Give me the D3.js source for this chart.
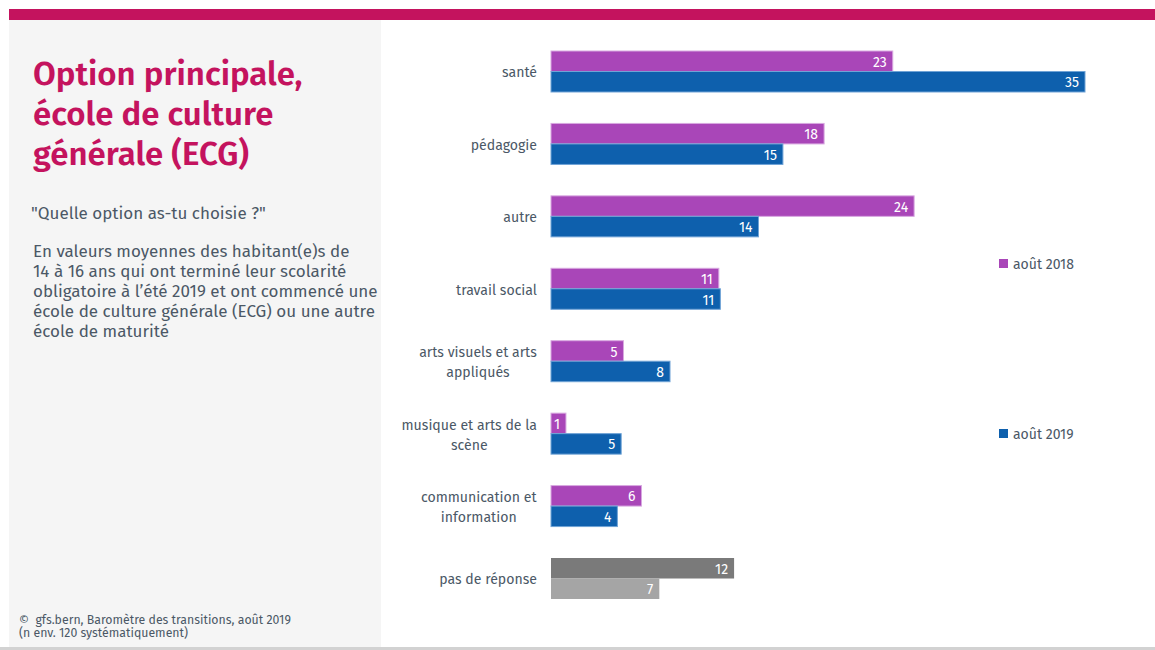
<!DOCTYPE html>
<html>
<head>
<meta charset="utf-8">
<script src="https://cdn.jsdelivr.net/npm/d3@7"></script>
<style>
  html, body { margin: 0; padding: 0; background: #ffffff; }
  svg { display: block; font-family: "Fira Sans", "Open Sans", "Noto Sans", sans-serif; }
</style>
</head>
<body>
<svg id="chart" width="1155" height="650"></svg>
<script>
// ---- data ----
const categories = [
  "santé",
  "pédagogie",
  "autre",
  "travail social",
  "arts visuels et arts\nappliqués",
  "musique et arts de la\nscène",
  "communication et\ninformation",
  "pas de réponse"
];
const series = ["août 2018", "août 2019"];
const values2018 = [22.4, 17.9, 23.8, 11.0, 4.75, 0.98, 5.93, 12.0];
const values2019 = [35.0, 15.2, 13.6, 11.1, 7.8, 4.6, 4.35, 7.1];
const labels2018 = ["23", "18", "24", "11", "5", "1", "6", "12"];
const labels2019 = ["35", "15", "14", "11", "8", "5", "4", "7"];

const titleLines = ["Option principale,", "école de culture", "générale (ECG)"];
const questionText = "\"Quelle option as-tu choisie ?\"";
const descLines = [
  "En valeurs moyennes des habitant(e)s de",
  "14 à 16 ans qui ont terminé leur scolarité",
  "obligatoire à l’été 2019 et ont commencé une",
  "école de culture générale (ECG) ou une autre",
  "école de maturité"
];
const footerLines = ["©\u00a0\u00a0gfs.bern, Baromètre des transitions, août 2019", "(n env. 120 systématiquement)"];

// ---- styling ----
const colMagenta = "#c4135e";
const col2018 = "#a946b8";
const col2019 = "#0e60ad";
const colNoAns2018 = "#7a7a7a";
const colNoAns2019 = "#a5a5a5";
const textCol = "#4b5866";

const svg = d3.select("#chart");

// top band and panels
svg.append("rect").attr("x", 9).attr("y", 9).attr("width", 1146).attr("height", 11).attr("fill", colMagenta);
svg.append("rect").attr("x", 9).attr("y", 20).attr("width", 372).attr("height", 627).attr("fill", "#f5f5f5");
svg.append("rect").attr("x", 0).attr("y", 647).attr("width", 1155).attr("height", 3).attr("fill", "#d2d2d2");

// title
const title = svg.append("text").attr("fill", colMagenta).attr("font-weight", 600).attr("font-size", 33);
titleLines.forEach((l, i) => {
  title.append("tspan").attr("x", 33).attr("y", 85 + i * 40).text(l);
});

svg.append("text").attr("x", 31).attr("y", 219).attr("fill", textCol).attr("font-size", 17).text(questionText);
const desc = svg.append("text").attr("fill", textCol).attr("font-size", 17);
descLines.forEach((l, i) => {
  desc.append("tspan").attr("x", 33).attr("y", 257 + i * 20).text(l);
});
const foot = svg.append("text").attr("fill", textCol).attr("font-size", 12.3);
footerLines.forEach((l, i) => {
  foot.append("tspan").attr("x", 19).attr("y", 624 + i * 13).text(l);
});

// ---- scales ----
const x = d3.scaleLinear().domain([0, 35]).range([551, 1085]);
const y = d3.scaleBand().domain(categories).range([51, 599]).paddingInner(0.434).paddingOuter(0);
const ySub = d3.scaleBand().domain(series).range([0, y.bandwidth()]);

const rows = categories.map((c, i) => ({
  cat: c,
  noAnswer: i === categories.length - 1,
  bars: [
    { s: series[0], v: values2018[i], lab: labels2018[i] },
    { s: series[1], v: values2019[i], lab: labels2019[i] }
  ]
}));

const g = svg.selectAll("g.row").data(rows).join("g").attr("class", "row")
  .attr("transform", d => `translate(0,${y(d.cat)})`);

g.selectAll("rect.bar").data(d => d.bars.map(b => ({ ...b, noAnswer: d.noAnswer })))
  .join("rect").attr("class", "bar")
  .attr("x", x(0))
  .attr("y", d => ySub(d.s))
  .attr("width", d => x(d.v) - x(0))
  .attr("height", ySub.bandwidth())
  .attr("fill", d => d.noAnswer ? (d.s === series[0] ? colNoAns2018 : colNoAns2019) : (d.s === series[0] ? col2018 : col2019))
  .attr("stroke", d => d.noAnswer ? "none" : (d.s === series[0] ? "#d8a8e0" : "#6fa3d6"))
  .attr("stroke-width", 1);

g.selectAll("text.val").data(d => d.bars)
  .join("text").attr("class", "val")
  .attr("x", d => x(d.v) - 6)
  .attr("y", d => ySub(d.s) + ySub.bandwidth() / 2)
  .attr("dy", "0.4em")
  .attr("text-anchor", "end")
  .attr("fill", "#ffffff")
  .attr("font-size", 14)
  .text(d => d.lab);

// category labels (multi-line centered block, right aligned)
g.each(function(d) {
  const lines = d.cat.split("\n");
  const grp = d3.select(this).append("g");
  const t = grp.append("text").attr("fill", textCol).attr("font-size", 14.1).attr("text-anchor", "middle");
  const cy = y.bandwidth() / 2 + 1;
  lines.forEach((l, i) => {
    t.append("tspan").attr("x", 0).attr("y", cy + (i - (lines.length - 1) / 2) * 20).attr("dy", "0.35em").text(l);
  });
  const w = t.node().getBBox().width;
  grp.attr("transform", `translate(${537 - w / 2},0)`);
});

// legend
const legend = [
  { s: series[0], y: 259, c: col2018 },
  { s: series[1], y: 429, c: col2019 }
];
const lg = svg.selectAll("g.leg").data(legend).join("g").attr("class", "leg");
lg.append("rect").attr("x", 999).attr("y", d => d.y).attr("width", 9).attr("height", 9).attr("fill", d => d.c);
lg.append("text").attr("x", 1013).attr("y", d => d.y + 4.5).attr("dy", "0.36em")
  .attr("fill", textCol).attr("font-size", 14).text(d => d.s);
</script>
</body>
</html>
